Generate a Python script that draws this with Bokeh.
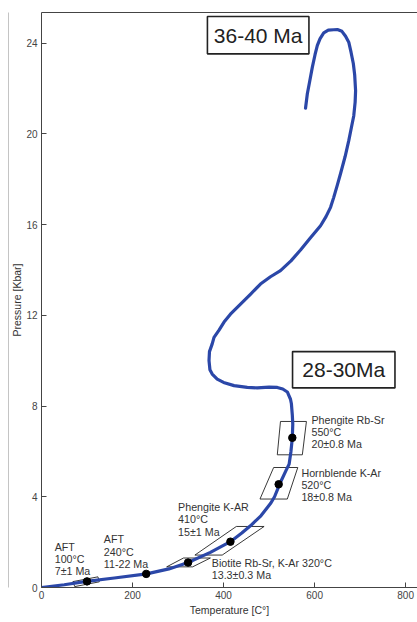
from bokeh.plotting import figure
from bokeh.models import Range1d, FixedTicker, LinearAxis
from bokeh.embed import file_html
from bokeh.resources import INLINE
from bokeh.core.properties import value

FONT = "Liberation Sans"

# P-T path (temperature in °C, pressure in kbar)
path_T = [0, 50, 99, 160, 231, 280, 322, 371, 415, 440, 459, 482, 503, 512, 523, 537, 544, 548, 551,
          552, 551, 549, 547, 540, 530, 518, 500, 474, 452, 423, 400, 386, 375, 370, 368, 369, 375,
          379, 390, 401, 415, 430, 445, 460, 481, 503, 525, 548, 569, 590, 613, 625, 635, 642, 650,
          657, 667, 675, 681, 686, 689, 690, 688, 685, 680, 675, 668, 660, 650, 642, 630, 620, 612,
          606, 601, 595, 589, 584, 580]
path_P = [0, 0.12, 0.27, 0.42, 0.6, 0.82, 1.1, 1.55, 2.02, 2.4, 2.72, 3.16, 3.7, 4.0, 4.55, 5.15, 5.44, 6.0, 6.6,
          7.2, 7.6, 8.1, 8.3, 8.62, 8.75, 8.82, 8.83, 8.8, 8.82, 8.9, 9.04, 9.19, 9.41, 9.6, 10.0, 10.4, 10.74,
          11.03, 11.35, 11.7, 12.05, 12.35, 12.65, 12.95, 13.38, 13.7, 13.97, 14.4, 14.88, 15.4, 15.95, 16.35, 16.76, 17.2, 17.75,
          18.25, 19.0, 19.7, 20.3, 20.8, 21.4, 21.9, 22.6, 23.1, 23.6, 24.04, 24.3, 24.52, 24.6, 24.59, 24.57, 24.45, 24.2,
          23.9, 23.5, 22.94, 22.3, 21.77, 21.13]

# thermochronology data points
dot_T = [100, 230, 322, 415, 521, 551]
dot_P = [0.27, 0.6, 1.1, 2.02, 4.55, 6.6]

# error boxes (parallelograms)
box_T = [[69, 124, 127, 73], [275, 312, 371, 332], [337, 428, 489, 397],
         [480, 510, 563, 540], [518, 525, 582, 573]]
box_P = [[0.26, 0.47, 0.25, 0.04], [0.91, 1.30, 1.30, 0.91], [1.43, 2.69, 2.69, 1.43],
         [3.90, 5.29, 5.29, 3.90], [5.85, 7.32, 7.32, 5.85]]

# annotation texts (first line anchor, left aligned)
ann_lines = [["AFT", "100°C", "7±1 Ma"],
             ["AFT", "240°C", "11-22 Ma"],
             ["Phengite K-AR", "410°C", "15±1 Ma"],
             ["Biotite Rb-Sr, K-Ar 320°C", "13.3±0.3 Ma"],
             ["Hornblende K-Ar", "520°C", "18±0.8 Ma"],
             ["Phengite Rb-Sr", "550°C", "20±0.8 Ma"]]
ann_T = [29, 137, 300, 374, 571, 593]
ann_P = [1.80, 2.13, 3.56, 1.08, 5.07, 7.40]

# age boxes
age_text = ["36-40 Ma", "28-30Ma"]
age_T = [476, 664]
age_P = [24.35, 9.6]
age_w = [223, 225]
age_h = [1.645, 1.60]

x_ticks = [0, 200, 400, 600, 800]
y_ticks = [0, 4, 8, 12, 16, 20, 24]

p = figure(width=417, height=622, output_backend="svg", toolbar_location=None,
           x_range=Range1d(0, 826), y_range=Range1d(0, 25.35),
           min_border_left=41, min_border_right=0, min_border_top=12, min_border_bottom=35)
p.grid.visible = False
p.outline_line_color = None
p.background_fill_color = "white"

for ax, ticks in ((p.xaxis[0], x_ticks), (p.yaxis[0], y_ticks)):
    ax.ticker = FixedTicker(ticks=ticks)
    ax.major_tick_in = 5
    ax.major_tick_out = 0
    ax.minor_tick_line_color = None
    ax.axis_line_color = "#444444"
    ax.major_tick_line_color = "#444444"
    ax.major_label_text_font = FONT
    ax.major_label_text_font_size = "10px"
    ax.major_label_text_color = "#444444"
    ax.axis_label_text_font = FONT
    ax.axis_label_text_font_size = "10.5px"
    ax.axis_label_text_font_style = "normal"
    ax.axis_label_text_color = "#333333"
p.xaxis.axis_label = "Temperature [C°]"
p.yaxis.axis_label = "Pressure [Kbar]"
p.xaxis.major_label_standoff = 3
p.xaxis.axis_label_standoff = 2
p.yaxis.major_label_standoff = 4
p.yaxis.axis_label_standoff = 0

top = LinearAxis(ticker=FixedTicker(ticks=[]), axis_line_color="#444444",
                 major_label_text_font_size="0px", major_tick_line_color=None,
                 minor_tick_line_color=None)
p.add_layout(top, "above")

# outer left axis: only its line, a thin grey rule left of the axis label
edge = LinearAxis(ticker=FixedTicker(ticks=[]), axis_line_color="#c4c4c4",
                  major_label_text_font_size="0px", major_tick_line_color=None,
                  minor_tick_line_color=None)
p.add_layout(edge, "left")

# boxes
p.patches(box_T, box_P, fill_color=None, line_color="#222222", line_width=0.9)

# P-T path
p.line(path_T, path_P, line_color="#2b47a8", line_width=3.2, line_cap="round", line_join="round")

# dots
p.scatter(dot_T, dot_P, size=7.5, fill_color="black", line_color="black")

# annotations
tx, ty, tt = [], [], []
for lines, x0, y0 in zip(ann_lines, ann_T, ann_P):
    for i, s in enumerate(lines):
        tx.append(x0)
        ty.append(y0 - i * 12.4 / 22.67)
        tt.append(s)
p.text(tx, ty, text=tt, text_font=value(FONT), text_font_size="10.7px",
       text_color="#333333", text_baseline="middle", text_align="left")

# age boxes
p.rect(age_T, age_P, width=age_w, height=age_h, fill_color="white",
       line_color="#222222", line_width=1.6)
p.text(age_T, age_P, text=age_text, text_font=value(FONT), text_font_size="21px",
       text_color="#222222", text_baseline="middle", text_align="center")

open("out.html", "w").write(file_html(p, INLINE))
